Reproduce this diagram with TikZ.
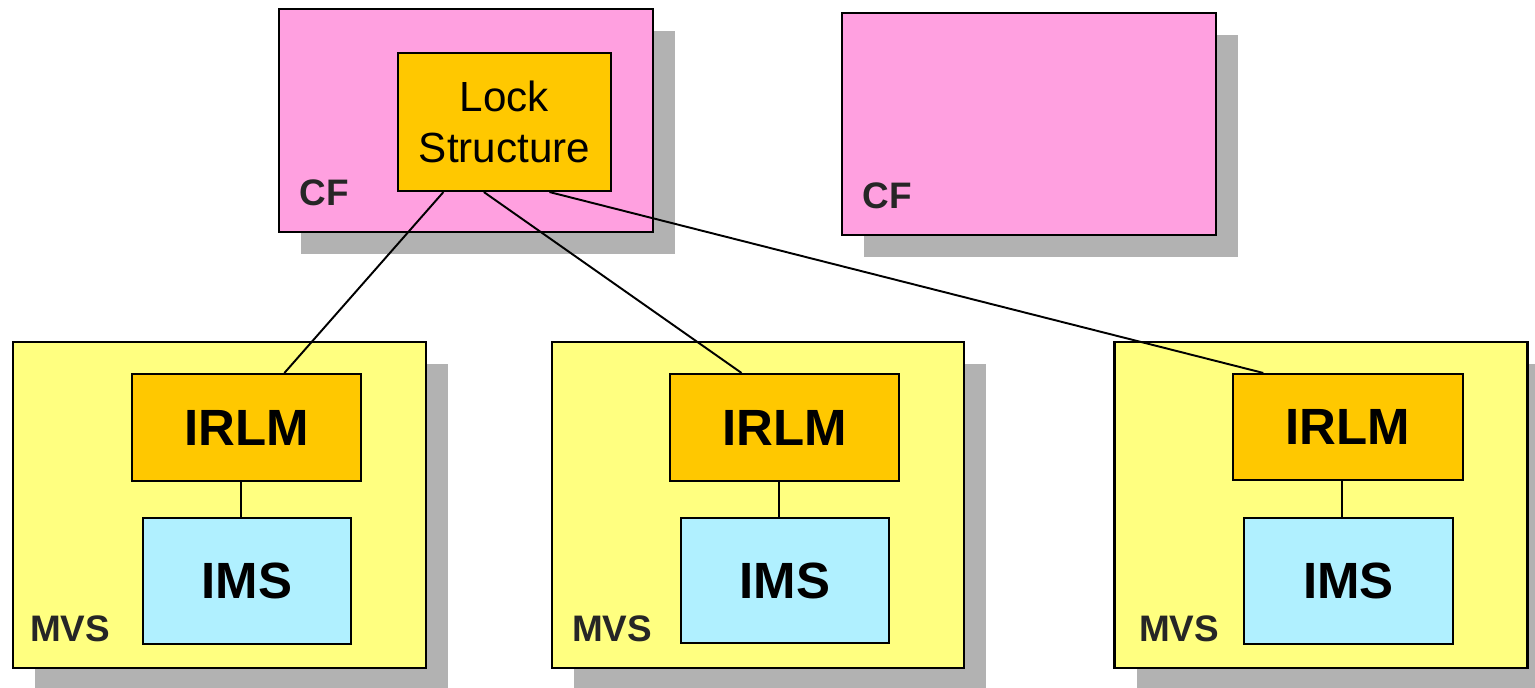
\documentclass[tikz,border=0pt]{standalone}
\usepackage{fontspec}
\setmainfont{Liberation Sans}
\usepackage{tikz}
\usetikzlibrary{calc,positioning,shadows}
\usepackage{xcolor}
\definecolor{cfpink}{RGB}{255,160,224}
\definecolor{mvsyellow}{RGB}{255,255,128}
\definecolor{lockorange}{RGB}{255,200,0}
\definecolor{imsblue}{RGB}{176,240,255}
\definecolor{shadowgrey}{RGB}{178,178,178}
\definecolor{tagtext}{RGB}{38,38,38}

\tikzset{
  boxshadow/.style={drop shadow={shadow xshift=0.44cm, shadow yshift=-0.44cm, fill=shadowgrey, opacity=1}},
  outerbox/.style={draw, rectangle, line width=1.4pt, boxshadow, inner sep=0pt},
  innerbox/.style={draw, rectangle, line width=1.2pt, inner sep=0pt, align=center},
  tagtext/.style={text=tagtext, font=\fontsize{21}{24}\selectfont\bfseries, inner sep=0pt},
  link/.style={line width=1.1pt}
}

\begin{document}
\begin{tikzpicture}[x=0.02cm, y=-0.02cm]
  \useasboundingbox (0,0) rectangle (1535,687);

  % Coupling facilities
  \node[outerbox, fill=cfpink, minimum width=7.48cm, minimum height=4.46cm] (cf1) at (466,120.5) {};
  \node[outerbox, fill=cfpink, minimum width=7.48cm, minimum height=4.44cm] (cf2) at (1029,124) {};
  \node[innerbox, fill=lockorange, minimum width=4.26cm, minimum height=2.76cm,
        font=\fontsize{24}{29.5}\selectfont] (lock) at (504.5,122) {Lock\\Structure};
  \node[tagtext] (cf1tag) at (324,193) {CF};
  \node[tagtext] (cf2tag) at (887,196) {CF};

  % MVS images
  \node[outerbox, fill=mvsyellow, minimum width=8.26cm, minimum height=6.52cm] (mvs1) at (219.5,505) {};
  \node[outerbox, fill=mvsyellow, minimum width=8.24cm, minimum height=6.52cm] (mvs2) at (758,505) {};
  \node[outerbox, fill=mvsyellow, minimum width=8.26cm, minimum height=6.52cm] (mvs3) at (1321,505) {};

  % IRLM
  \node[innerbox, fill=lockorange, minimum width=4.58cm, minimum height=2.14cm,
        font=\fontsize{29}{34}\selectfont\bfseries] (irlm1) at (246.5,427.5) {IRLM};
  \node[innerbox, fill=lockorange, minimum width=4.58cm, minimum height=2.14cm,
        font=\fontsize{29}{34}\selectfont\bfseries] (irlm2) at (784.5,427.5) {IRLM};
  \node[innerbox, fill=lockorange, minimum width=4.60cm, minimum height=2.12cm,
        font=\fontsize{29}{34}\selectfont\bfseries] (irlm3) at (1348,427) {IRLM};

  % IMS
  \node[innerbox, fill=imsblue, minimum width=4.16cm, minimum height=2.52cm,
        font=\fontsize{29}{34}\selectfont\bfseries] (ims1) at (247,581) {IMS};
  \node[innerbox, fill=imsblue, minimum width=4.16cm, minimum height=2.50cm,
        font=\fontsize{29}{34}\selectfont\bfseries] (ims2) at (785,580.5) {IMS};
  \node[innerbox, fill=imsblue, minimum width=4.18cm, minimum height=2.52cm,
        font=\fontsize{29}{34}\selectfont\bfseries] (ims3) at (1348.5,581) {IMS};

  \node[tagtext] (mvs1tag) at (70,629) {MVS};
  \node[tagtext] (mvs2tag) at (612,629) {MVS};
  \node[tagtext] (mvs3tag) at (1179,629) {MVS};

  % IRLM to IMS
  \draw[link] ($(irlm1.south)+(-5.5,0)$) -- ($(ims1.north)+(-6,0)$);
  \draw[link] ($(irlm2.south)+(-5.5,0)$) -- ($(ims2.north)+(-6,0)$);
  \draw[link] ($(irlm3.south)+(-6,0)$) -- ($(ims3.north)+(-6.5,0)$);

  % Lock structure to IRLMs
  \draw[link] ($(lock.south west)!0.216!(lock.south east)$) -- ($(irlm1.north west)!0.664!(irlm1.north east)$);
  \draw[link] ($(lock.south west)!0.404!(lock.south east)$) -- ($(irlm2.north west)!0.314!(irlm2.north east)$);
  \draw[link] ($(lock.south west)!0.709!(lock.south east)$) -- ($(irlm3.north west)!0.135!(irlm3.north east)$);
\end{tikzpicture}
\end{document}
